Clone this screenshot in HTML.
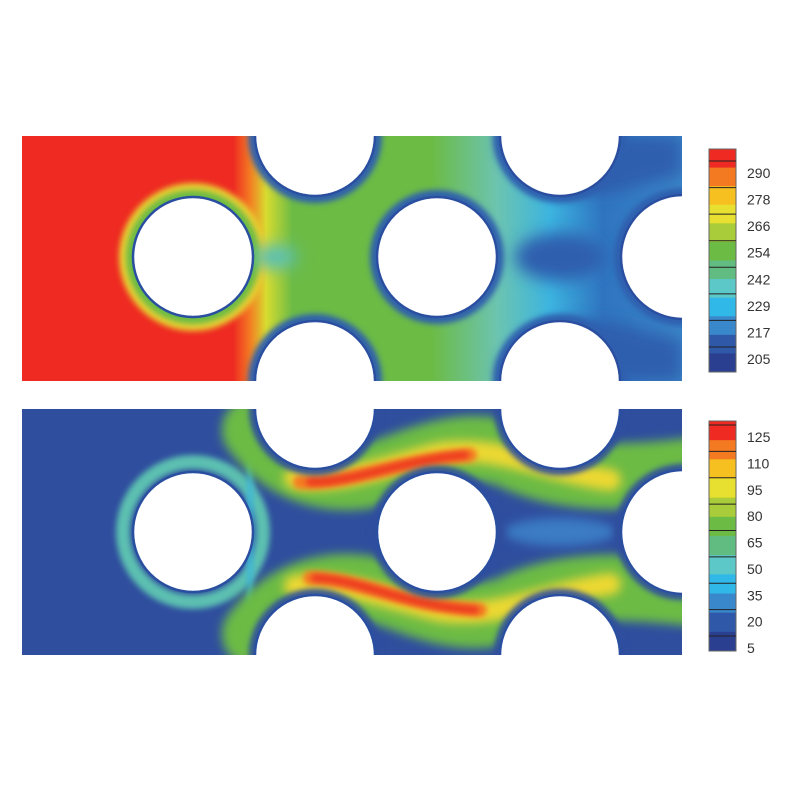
<!DOCTYPE html>
<html><head><meta charset="utf-8"><style>
html,body{margin:0;padding:0;background:#fff;width:800px;height:800px;overflow:hidden}
svg{display:block}
text{font-family:"Liberation Sans",sans-serif;font-size:14px;fill:#333}
</style></head><body>
<svg width="800" height="800" viewBox="0 0 800 800">
<defs>
 <filter id="b8" filterUnits="userSpaceOnUse" x="0" y="100" width="720" height="600"><feGaussianBlur stdDeviation="8"/></filter>
 <filter id="b5" filterUnits="userSpaceOnUse" x="0" y="100" width="720" height="600"><feGaussianBlur stdDeviation="5"/></filter>
 <filter id="b3" filterUnits="userSpaceOnUse" x="0" y="100" width="720" height="600"><feGaussianBlur stdDeviation="3"/></filter>
 <clipPath id="c1"><rect x="22" y="136" width="660" height="245"/></clipPath>
 <clipPath id="c2"><rect x="22" y="409" width="660" height="246"/></clipPath>
 <linearGradient id="gT" x1="22" x2="682" y1="0" y2="0" gradientUnits="userSpaceOnUse">
  <stop offset="0.32" stop-color="#ee2a22"/>
  <stop offset="0.345" stop-color="#f47a22"/>
  <stop offset="0.37" stop-color="#d8dc30"/>
  <stop offset="0.41" stop-color="#6cbb45"/>
  <stop offset="0.62" stop-color="#6cbb45"/>
  <stop offset="0.72" stop-color="#6cc4b0"/>
  <stop offset="0.80" stop-color="#3cb4e0"/>
  <stop offset="0.88" stop-color="#2f74c0"/>
  <stop offset="1" stop-color="#3a86c8"/>
 </linearGradient>
</defs>

<!-- TOP PANEL -->
<g clip-path="url(#c1)">
 <rect x="22" y="136" width="660" height="245" fill="url(#gT)"/>
 <rect x="22" y="136" width="110" height="245" fill="#ee2a22"/>
 <circle cx="193" cy="257" r="74" fill="#e8d030" filter="url(#b3)"/>
 <circle cx="193" cy="257" r="67" fill="#6cbb45" filter="url(#b3)"/>
 <ellipse cx="275" cy="257" rx="22" ry="12" fill="#58c0b8" filter="url(#b8)"/>
 <ellipse cx="560" cy="257" rx="45" ry="24" fill="#2f5fae" filter="url(#b8)"/>
 <path d="M500 150 Q560 215 640 185 L682 175 L682 136 L500 136Z" fill="#2f5fae" filter="url(#b8)"/>
 <path d="M500 367 Q560 300 640 330 L682 340 L682 381 L500 381Z" fill="#2f5fae" filter="url(#b8)"/>
 <g fill="none" stroke="#2f5fae" stroke-width="10" filter="url(#b3)">
  <circle cx="437" cy="257" r="62"/><circle cx="683" cy="257" r="64"/>
  <circle cx="315" cy="136" r="62"/><circle cx="560" cy="136" r="62"/>
  <circle cx="315" cy="381" r="62"/><circle cx="560" cy="381" r="62"/>
 </g>
 <g fill="#fff" stroke="#2a4fa0" stroke-width="2.5">
  <circle cx="193" cy="257" r="60"/>
  <circle cx="437" cy="257" r="60"/>
  <circle cx="683" cy="257" r="62"/>
  <circle cx="315" cy="136" r="60"/><circle cx="560" cy="136" r="60"/>
  <circle cx="315" cy="381" r="60"/><circle cx="560" cy="381" r="60"/>
 </g>
</g>

<!-- BOTTOM PANEL -->
<g clip-path="url(#c2)">
 <rect x="22" y="409" width="660" height="246" fill="#2f4e9e"/>
 <circle cx="193" cy="532" r="70" fill="none" stroke="#5cc0b0" stroke-width="14" filter="url(#b3)"/>
 <path d="M250 409 L250 655" stroke="#40b8d8" stroke-width="6" filter="url(#b3)"/>
 <g fill="none" stroke-linecap="round">
  <path d="M255 430 C285 470 330 488 390 470 C430 455 470 440 510 455 C560 480 620 480 700 470" stroke="#6cbb45" stroke-width="66" filter="url(#b5)"/>
  <path d="M255 634 C285 594 330 576 390 594 C430 609 470 624 510 609 C560 584 620 584 700 594" stroke="#6cbb45" stroke-width="66" filter="url(#b5)"/>
  <path d="M295 478 C340 485 390 465 440 453 C500 445 540 470 610 480" stroke="#ecd830" stroke-width="22" filter="url(#b5)"/>
  <path d="M295 586 C340 579 390 599 440 611 C500 619 540 594 610 584" stroke="#ecd830" stroke-width="22" filter="url(#b5)"/>
  <path d="M300 482 C350 484 400 460 470 455" stroke="#f47a22" stroke-width="14" filter="url(#b3)"/>
  <path d="M310 578 C360 579 400 605 480 610" stroke="#f47a22" stroke-width="14" filter="url(#b3)"/>
  <path d="M310 482 C350 484 400 460 465 455" stroke="#ee3a22" stroke-width="8" filter="url(#b3)"/>
  <path d="M315 578 C360 579 400 605 475 610" stroke="#ee3a22" stroke-width="8" filter="url(#b3)"/>
 </g>
 <ellipse cx="560" cy="532" rx="55" ry="14" fill="#3a7cc4" filter="url(#b5)"/>
 <g fill="none" stroke="#2f4e9e" stroke-width="8" filter="url(#b3)">
  <circle cx="437" cy="532" r="62"/><circle cx="683" cy="532" r="64"/>
  <circle cx="315" cy="409" r="62"/><circle cx="560" cy="409" r="62"/>
  <circle cx="315" cy="655" r="62"/><circle cx="560" cy="655" r="62"/>
 </g>
 <g fill="#fff" stroke="#2a4fa0" stroke-width="2.5">
  <circle cx="193" cy="532" r="60"/>
  <circle cx="437" cy="532" r="60"/>
  <circle cx="683" cy="532" r="62"/>
  <circle cx="315" cy="409" r="60"/><circle cx="560" cy="409" r="60"/>
  <circle cx="315" cy="655" r="60"/><circle cx="560" cy="655" r="60"/>
 </g>
</g>
<g id="bars"></g>
</svg>
<script>
const topTicks=[290,278,266,254,242,229,217,205];
const botTicks=[125,110,95,80,65,50,35,20,5];
const bandColors=["#ee2a22","#f47a22","#f6c020","#e8e030","#a8cc3a","#6cbb45","#60bc80","#5cc8c8","#30b8e8","#3a88cc","#2f58a8","#2a3f90"];
const ns="http://www.w3.org/2000/svg";
const g=document.getElementById('bars');
function colorbar(x,y0,y1,ticks,firstY,lastY,name){
  const grp=document.createElementNS(ns,'g');
  
  
  const n=bandColors.length,h=(y1-y0)/n;
  bandColors.forEach((c,i)=>{const r=document.createElementNS(ns,'rect');
    r.setAttribute('x',x);r.setAttribute('y',y0+i*h);r.setAttribute('width',27);r.setAttribute('height',h+0.5);r.setAttribute('fill',c);
    
    
    grp.appendChild(r);});
  const f=document.createElementNS(ns,'rect');
  f.setAttribute('x',x);f.setAttribute('y',y0);f.setAttribute('width',27);f.setAttribute('height',y1-y0);f.setAttribute('fill','none');f.setAttribute('stroke','#666');
  grp.appendChild(f);
  const step=(lastY-firstY)/(ticks.length-1);
  ticks.forEach((t,i)=>{const yy=firstY+i*step;
    const l=document.createElementNS(ns,'line');l.setAttribute('x1',x);l.setAttribute('x2',x+27);l.setAttribute('y1',yy-12);l.setAttribute('y2',yy-12);l.setAttribute('stroke','#222');
    grp.appendChild(l);
    const tx=document.createElementNS(ns,'text');tx.setAttribute('x',x+38);tx.setAttribute('y',yy+5);tx.textContent=t;
    
    
    grp.appendChild(tx);});
  g.appendChild(grp);
}
colorbar(709,149,372,topTicks,173,359,'temperature-colorbar');
colorbar(709,421,651,botTicks,437,648,'velocity-colorbar');
</script>
</body></html>
